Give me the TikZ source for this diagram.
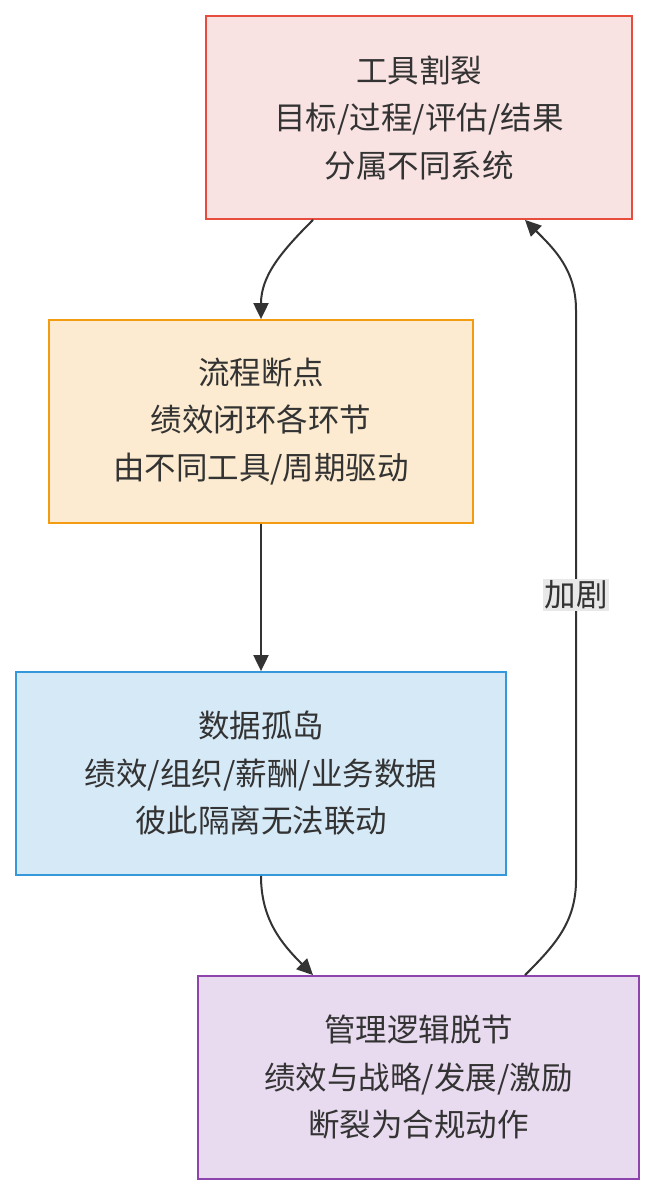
\documentclass[tikz,border=0pt]{standalone}
\usepackage{fontspec}
\usepackage{tikz}
\usetikzlibrary{arrows.meta,positioning,calc}
\newfontfamily\cjk{Noto Sans CJK SC}
\definecolor{gapText}{HTML}{333333}
\definecolor{gapTool}{HTML}{F8E2E2}
\definecolor{gapToolEdge}{HTML}{E74C3C}
\definecolor{gapFlow}{HTML}{FCEBD0}
\definecolor{gapFlowEdge}{HTML}{F39C12}
\definecolor{gapData}{HTML}{D6E9F7}
\definecolor{gapDataEdge}{HTML}{3498DB}
\definecolor{gapMgmt}{HTML}{E8DAEF}
\definecolor{gapMgmtEdge}{HTML}{8E44AD}
\definecolor{gapLbl}{HTML}{E8E8E8}
\tikzset{
  gap/.style={draw,line width=1.8pt,text=gapText,align=center,minimum height=203pt,
              inner sep=0pt,font=\cjk\fontsize{31.5}{47.5}\selectfont},
  gaptool/.style={gap,draw=gapToolEdge,fill=gapTool,minimum width=426pt},
  gapflow/.style={gap,draw=gapFlowEdge,fill=gapFlow,minimum width=424pt},
  gapdata/.style={gap,draw=gapDataEdge,fill=gapData,minimum width=490pt},
  gapmgmt/.style={gap,draw=gapMgmtEdge,fill=gapMgmt,minimum width=441pt},
  gaplink/.style={-{Triangle[length=16pt,width=15pt]},draw=gapText,line width=2pt},
  gaplbl/.style={fill=gapLbl,text=gapText,inner sep=1.5pt,font=\cjk\fontsize{31.5}{36}\selectfont},
}
\begin{document}
\begin{tikzpicture}[x=1pt,y=-1pt]
  \useasboundingbox[fill=white] (0,0) rectangle (655,1196);
  \node[gaptool] (tool) at (419,117.5) {工具割裂\\目标/过程/评估/结果\\分属不同系统};
  \node[gapflow] (flow) at (261,421.5) {流程断点\\绩效闭环各环节\\由不同工具/周期驱动};
  \node[gapdata] (data) at (261,773.5) {数据孤岛\\绩效/组织/薪酬/业务数据\\彼此隔离无法联动};
  \node[gapmgmt] (mgmt) at (418.5,1077.5) {管理逻辑脱节\\绩效与战略/发展/激励\\断裂为合规动作};

  \draw[gaplink] ([xshift=-106pt]tool.south) to[out=-135,in=90] (flow.north);
  \draw[gaplink] (flow.south) -- (data.north);
  \draw[gaplink] (data.south) to[out=-90,in=135] ([xshift=-105.5pt]mgmt.north);

  % feedback loop on the right
  \coordinate (loopA) at (576,880);
  \coordinate (loopB) at (576,310);
  \draw[gaplink] ([xshift=106.5pt]mgmt.north) to[out=45,in=-90] (loopA)
    -- node[gaplbl,pos=0.5]{加剧} (loopB) to[out=90,in=-45] ([xshift=106pt]tool.south);
\end{tikzpicture}
\end{document}
